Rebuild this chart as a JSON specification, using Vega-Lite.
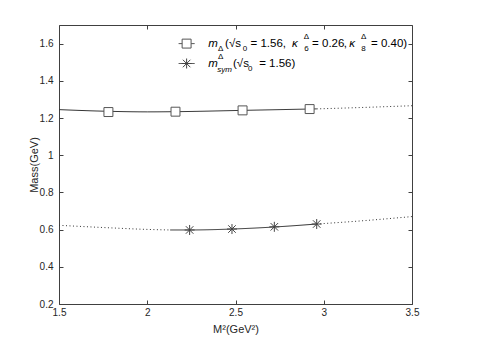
{
  "$schema": "https://vega.github.io/schema/vega-lite/v6.json",
  "width": 353,
  "height": 279,
  "autosize": "none",
  "padding": {"left": 59, "top": 25, "right": 79, "bottom": 38},
  "background": "white",
  "config": {
    "view": {"stroke": null},
    "font": "Liberation Sans",
    "axis": {
      "grid": false,
      "domainColor": "#404040",
      "tickColor": "#404040",
      "domainWidth": 1,
      "tickWidth": 1,
      "tickSize": -4,
      "labelFlush": false,
      "labelFont": "Liberation Sans",
      "labelFontSize": 10,
      "labelColor": "#262626",
      "titleFont": "Liberation Sans",
      "titleFontSize": 11,
      "titleFontWeight": "normal",
      "titleColor": "#262626"
    }
  },
  "datasets": {
    "curves": [
      {"seg": "u1", "style": "solid", "x": 1.5, "y": 1.245},
      {"seg": "u1", "style": "solid", "x": 1.78, "y": 1.236},
      {"seg": "u1", "style": "solid", "x": 2.0, "y": 1.233},
      {"seg": "u1", "style": "solid", "x": 2.16, "y": 1.234},
      {"seg": "u1", "style": "solid", "x": 2.54, "y": 1.241},
      {"seg": "u1", "style": "solid", "x": 2.96, "y": 1.249},
      {"seg": "u2", "style": "dotted", "x": 2.96, "y": 1.249},
      {"seg": "u2", "style": "dotted", "x": 3.2, "y": 1.256},
      {"seg": "u2", "style": "dotted", "x": 3.5, "y": 1.266},
      {"seg": "l1", "style": "dotted", "x": 1.5, "y": 0.623},
      {"seg": "l1", "style": "dotted", "x": 1.8, "y": 0.609},
      {"seg": "l1", "style": "dotted", "x": 2.0, "y": 0.601},
      {"seg": "l1", "style": "dotted", "x": 2.13, "y": 0.598},
      {"seg": "l2", "style": "solid", "x": 2.13, "y": 0.598},
      {"seg": "l2", "style": "solid", "x": 2.24, "y": 0.598},
      {"seg": "l2", "style": "solid", "x": 2.48, "y": 0.603},
      {"seg": "l2", "style": "solid", "x": 2.72, "y": 0.614},
      {"seg": "l2", "style": "solid", "x": 2.96, "y": 0.63},
      {"seg": "l3", "style": "dotted", "x": 2.96, "y": 0.63},
      {"seg": "l3", "style": "dotted", "x": 3.2, "y": 0.646},
      {"seg": "l3", "style": "dotted", "x": 3.5, "y": 0.67},
      {"seg": "k1", "style": "solid", "x": 2.178, "y": 1.6},
      {"seg": "k1", "style": "solid", "x": 2.268, "y": 1.6},
      {"seg": "k2", "style": "solid", "x": 2.178, "y": 1.493},
      {"seg": "k2", "style": "solid", "x": 2.268, "y": 1.493}
    ],
    "points": [
      {"series": "delta", "x": 1.78, "y": 1.232},
      {"series": "delta", "x": 2.16, "y": 1.234},
      {"series": "delta", "x": 2.54, "y": 1.241},
      {"series": "delta", "x": 2.92, "y": 1.248},
      {"series": "delta", "x": 2.223, "y": 1.6},
      {"series": "sym", "x": 2.24, "y": 0.598},
      {"series": "sym", "x": 2.48, "y": 0.603},
      {"series": "sym", "x": 2.72, "y": 0.615},
      {"series": "sym", "x": 2.96, "y": 0.63},
      {"series": "sym", "x": 2.223, "y": 1.493}
    ],
    "legtext": [
      {"line": 1, "role": "mainIt", "t": "m", "x": 2.345, "y": 1.6},
      {"line": 1, "role": "sub", "t": "Δ", "x": 2.401, "y": 1.6},
      {"line": 1, "role": "main", "t": "(√s", "x": 2.441, "y": 1.6},
      {"line": 1, "role": "sub", "t": "0", "x": 2.541, "y": 1.6},
      {"line": 1, "role": "main", "t": "= 1.56,", "x": 2.585, "y": 1.6},
      {"line": 1, "role": "mainIt", "t": "κ", "x": 2.82, "y": 1.6},
      {"line": 1, "role": "sup", "t": "Δ", "x": 2.887, "y": 1.6},
      {"line": 1, "role": "sub", "t": "6", "x": 2.889, "y": 1.6},
      {"line": 1, "role": "main", "t": "= 0.26", "x": 2.934, "y": 1.6},
      {"line": 1, "role": "main", "t": ",", "x": 3.114, "y": 1.6},
      {"line": 1, "role": "mainIt", "t": "κ", "x": 3.144, "y": 1.6},
      {"line": 1, "role": "sup", "t": "Δ", "x": 3.211, "y": 1.6},
      {"line": 1, "role": "sub", "t": "8", "x": 3.213, "y": 1.6},
      {"line": 1, "role": "main", "t": "= 0.40)", "x": 3.268, "y": 1.6},
      {"line": 2, "role": "mainIt", "t": "m", "x": 2.345, "y": 1.493},
      {"line": 2, "role": "sup", "t": "Δ", "x": 2.401, "y": 1.493},
      {"line": 2, "role": "subIt", "t": "sym", "x": 2.397, "y": 1.493},
      {"line": 2, "role": "main", "t": "(√s", "x": 2.486, "y": 1.493},
      {"line": 2, "role": "sub", "t": "0", "x": 2.571, "y": 1.493},
      {"line": 2, "role": "main", "t": "= 1.56)", "x": 2.634, "y": 1.493}
    ]
  },
  "layer": [
    {
      "data": {"name": "curves"},
      "mark": {"type": "line", "color": "#333333", "strokeWidth": 1, "interpolate": "monotone"},
      "encoding": {
        "x": {"field": "x", "type": "quantitative", "scale": {"domain": [1.5, 3.5], "nice": false, "zero": false},
              "axis": {"orient": "bottom", "values": [1.5, 2, 2.5, 3, 3.5], "format": "~g", "title": "M²(GeV²)", "labelPadding": 7, "titlePadding": 6}},
        "y": {"field": "y", "type": "quantitative", "scale": {"domain": [0.2, 1.7], "nice": false, "zero": false},
              "axis": {"orient": "left", "values": [0.2, 0.4, 0.6, 0.8, 1, 1.2, 1.4, 1.6], "format": "~g", "title": "Mass(GeV)", "labelPadding": 10, "titlePadding": 0}},
        "detail": {"field": "seg", "type": "nominal"},
        "strokeDash": {"field": "style", "type": "nominal", "scale": {"domain": ["solid", "dotted"], "range": [[1, 0], [1, 2.5]]}, "legend": null}
      }
    },
    {
      "data": {"name": "points"},
      "transform": [{"filter": "datum.series === 'delta'"}],
      "mark": {"type": "point", "shape": "square", "size": 80, "filled": true, "fill": "white", "stroke": "#555555", "strokeWidth": 1, "opacity": 1},
      "encoding": {
        "x": {"field": "x", "type": "quantitative", "axis": {"orient": "top", "values": [1.5, 2, 2.5, 3, 3.5], "labels": false, "title": null}},
        "y": {"field": "y", "type": "quantitative", "axis": {"orient": "right", "values": [0.2, 0.4, 0.6, 0.8, 1, 1.2, 1.4, 1.6], "labels": false, "title": null}}
      }
    },
    {
      "data": {"name": "points"},
      "transform": [{"filter": "datum.series === 'sym'"}],
      "mark": {"type": "point", "shape": "M-1,0L1,0M0,-1L0,1M-0.75,-0.75L0.75,0.75M-0.75,0.75L0.75,-0.75", "size": 100, "filled": false, "stroke": "#444444", "strokeWidth": 1, "opacity": 1},
      "encoding": {
        "x": {"field": "x", "type": "quantitative", "axis": null},
        "y": {"field": "y", "type": "quantitative", "axis": null}
      }
    },
    {
      "data": {"name": "legtext"},
      "transform": [{"filter": "datum.role === 'main'"}],
      "mark": {"type": "text", "align": "left", "baseline": "alphabetic", "fontSize": 11.5, "dy": 3, "color": "#000000"},
      "encoding": {
        "x": {"field": "x", "type": "quantitative", "axis": null},
        "y": {"field": "y", "type": "quantitative", "axis": null},
        "text": {"field": "t"}
      }
    },
    {
      "data": {"name": "legtext"},
      "transform": [{"filter": "datum.role === 'mainIt'"}],
      "mark": {"type": "text", "align": "left", "baseline": "alphabetic", "fontSize": 11.5, "fontStyle": "italic", "dy": 3, "color": "#000000"},
      "encoding": {
        "x": {"field": "x", "type": "quantitative", "axis": null},
        "y": {"field": "y", "type": "quantitative", "axis": null},
        "text": {"field": "t"}
      }
    },
    {
      "data": {"name": "legtext"},
      "transform": [{"filter": "datum.role === 'sub'"}],
      "mark": {"type": "text", "align": "left", "baseline": "alphabetic", "fontSize": 8, "dy": 7.5, "color": "#000000"},
      "encoding": {
        "x": {"field": "x", "type": "quantitative", "axis": null},
        "y": {"field": "y", "type": "quantitative", "axis": null},
        "text": {"field": "t"}
      }
    },
    {
      "data": {"name": "legtext"},
      "transform": [{"filter": "datum.role === 'subIt'"}],
      "mark": {"type": "text", "align": "left", "baseline": "alphabetic", "fontSize": 8, "fontStyle": "italic", "dy": 8, "color": "#000000"},
      "encoding": {
        "x": {"field": "x", "type": "quantitative", "axis": null},
        "y": {"field": "y", "type": "quantitative", "axis": null},
        "text": {"field": "t"}
      }
    },
    {
      "data": {"name": "legtext"},
      "transform": [{"filter": "datum.role === 'sup'"}],
      "mark": {"type": "text", "align": "left", "baseline": "alphabetic", "fontSize": 8, "dy": -5, "color": "#000000"},
      "encoding": {
        "x": {"field": "x", "type": "quantitative", "axis": null},
        "y": {"field": "y", "type": "quantitative", "axis": null},
        "text": {"field": "t"}
      }
    }
  ],
  "resolve": {"axis": {"x": "independent", "y": "independent"}}
}
